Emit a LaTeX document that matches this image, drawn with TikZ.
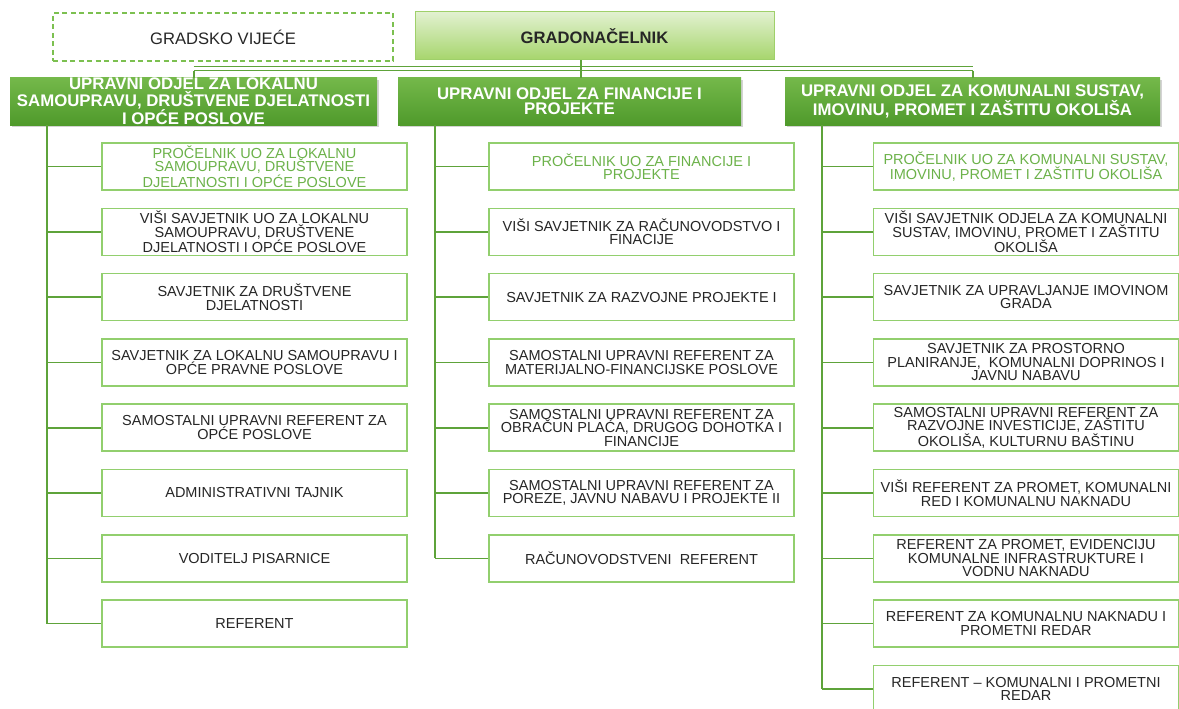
\documentclass[tikz,border=0pt]{standalone}
\usepackage{fontspec}
\setmainfont{Liberation Sans}
\usetikzlibrary{shadows}
\definecolor{linegreen}{HTML}{5EA33A}
\definecolor{boxgreen}{HTML}{92CF6E}
\definecolor{textgreen}{HTML}{6CB24A}
\definecolor{hdrtop}{HTML}{74B84A}
\definecolor{hdrbot}{HTML}{4F9A2B}
\definecolor{maytop}{HTML}{E2F1D0}
\definecolor{maybot}{HTML}{A6D56C}
\definecolor{mayborder}{HTML}{9FD06A}
\definecolor{dashgreen}{HTML}{7CC050}
\definecolor{txt}{HTML}{262626}
\begin{document}
\begin{tikzpicture}[x=1pt,y=-1pt,
  box/.style={draw=boxgreen, line width=1.5pt, fill=white, minimum width=305pt,
    minimum height=47pt, inner sep=0pt, align=center, text=txt,
    font=\fontsize{14.5}{13.5}\selectfont},
  headbox/.style={box, text=textgreen},
  hdr/.style={draw=none, top color=hdrtop, bottom color=hdrbot, text=white,
    font=\bfseries\fontsize{16.8}{14.8}\selectfont, align=center, inner sep=0pt,
    minimum height=47pt, drop shadow={shadow xshift=1.5pt, shadow yshift=-2pt, opacity=0.35}},
  conn/.style={draw=linegreen, line width=1.6pt},
  trunk/.style={draw=linegreen, line width=2pt}]
\useasboundingbox (0,0) rectangle (1179,709);

% top level
\node[draw=dashgreen, line width=1.2pt, dash pattern=on 5pt off 3.5pt, minimum width=340pt,
  minimum height=48pt, inner sep=0pt, text=txt, font=\fontsize{16.6}{16}\selectfont]
  (council) at (223,37) {GRADSKO VIJEĆE};
\node[draw=mayborder, line width=1pt, top color=maytop, bottom color=maybot, minimum width=359pt,
  minimum height=48pt, inner sep=0pt, text=txt, font=\bfseries\fontsize{16.6}{16}\selectfont]
  (mayor) at (594.5,36) {GRADONAČELNIK};

% departments
\node[hdr, minimum width=367pt] (h1) at (193.5,101.5)
  {UPRAVNI ODJEL ZA LOKALNU\\SAMOUPRAVU, DRUŠTVENE DJELATNOSTI\\I OPĆE POSLOVE};
\node[hdr, minimum width=343pt] (h2) at (569.5,101.5)
  {UPRAVNI ODJEL ZA FINANCIJE I\\PROJEKTE};
\node[hdr, minimum width=375pt] (h3) at (972.5,101.5)
  {UPRAVNI ODJEL ZA KOMUNALNI SUSTAV,\\IMOVINU, PROMET I ZAŠTITU OKOLIŠA};

% top connector
\coordinate (bar) at (581,68.5);
\draw[draw=linegreen, line width=1.2pt, double=white, double distance=3.5pt]
  (h1.north |- bar) -- (h3.north |- bar);
\draw[trunk] (mayor.south -| bar) -- (h2.north -| bar);
\draw[trunk] ([yshift=-2.5pt]h1.north |- bar) -- (h1.north);
\draw[trunk] ([yshift=-2.5pt]h3.north |- bar) -- (h3.north);

% column 1
\node[headbox] (a0) at (254.5,166.5) {PROČELNIK UO ZA LOKALNU\\SAMOUPRAVU, DRUŠTVENE\\DJELATNOSTI I OPĆE POSLOVE};
\node[box] (a1) at (254.5,231.8) {VIŠI SAVJETNIK UO ZA LOKALNU\\SAMOUPRAVU, DRUŠTVENE\\DJELATNOSTI I OPĆE POSLOVE};
\node[box] (a2) at (254.5,297.1) {SAVJETNIK ZA DRUŠTVENE\\DJELATNOSTI};
\node[box] (a3) at (254.5,362.4) {SAVJETNIK ZA LOKALNU SAMOUPRAVU I\\OPĆE PRAVNE POSLOVE};
\node[box] (a4) at (254.5,427.7) {SAMOSTALNI UPRAVNI REFERENT ZA\\OPĆE POSLOVE};
\node[box] (a5) at (254.5,493.0) {ADMINISTRATIVNI TAJNIK};
\node[box] (a6) at (254.5,558.3) {VODITELJ PISARNICE};
\node[box] (a7) at (254.5,623.6) {REFERENT};

% column 2
\node[headbox] (b0) at (641.5,166.5) {PROČELNIK UO ZA FINANCIJE I\\PROJEKTE};
\node[box] (b1) at (641.5,231.8) {VIŠI SAVJETNIK ZA RAČUNOVODSTVO I\\FINACIJE};
\node[box] (b2) at (641.5,297.1) {SAVJETNIK ZA RAZVOJNE PROJEKTE I};
\node[box] (b3) at (641.5,362.4) {SAMOSTALNI UPRAVNI REFERENT ZA\\MATERIJALNO-FINANCIJSKE POSLOVE};
\node[box] (b4) at (641.5,427.7) {SAMOSTALNI UPRAVNI REFERENT ZA\\OBRAČUN PLAĆA, DRUGOG DOHOTKA I\\FINANCIJE};
\node[box] (b5) at (641.5,493.0) {SAMOSTALNI UPRAVNI REFERENT ZA\\POREZE, JAVNU NABAVU I PROJEKTE II};
\node[box] (b6) at (641.5,558.3) {RAČUNOVODSTVENI~~REFERENT};

% column 3
\begin{scope}[every node/.append style={minimum width=302pt}]
\node[headbox] (c0) at (1026,166.5) {PROČELNIK UO ZA KOMUNALNI SUSTAV,\\IMOVINU, PROMET I ZAŠTITU OKOLIŠA};
\node[box] (c1) at (1026,231.8) {VIŠI SAVJETNIK ODJELA ZA KOMUNALNI\\SUSTAV, IMOVINU, PROMET I ZAŠTITU\\OKOLIŠA};
\node[box] (c2) at (1026,297.1) {SAVJETNIK ZA UPRAVLJANJE IMOVINOM\\GRADA};
\node[box] (c3) at (1026,362.4) {SAVJETNIK ZA PROSTORNO\\PLANIRANJE,~~KOMUNALNI DOPRINOS I\\JAVNU NABAVU};
\node[box] (c4) at (1026,427.7) {SAMOSTALNI UPRAVNI REFERENT ZA\\RAZVOJNE INVESTICIJE, ZAŠTITU\\OKOLIŠA, KULTURNU BAŠTINU};
\node[box] (c5) at (1026,493.0) {VIŠI REFERENT ZA PROMET, KOMUNALNI\\RED I KOMUNALNU NAKNADU};
\node[box] (c6) at (1026,558.3) {REFERENT ZA PROMET, EVIDENCIJU\\KOMUNALNE INFRASTRUKTURE I\\VODNU NAKNADU};
\node[box] (c7) at (1026,623.6) {REFERENT ZA KOMUNALNU NAKNADU I\\PROMETNI REDAR};
\node[box] (c8) at (1026,688.9) {REFERENT – KOMUNALNI I PROMETNI\\REDAR};
\end{scope}

% trunks
\coordinate (t1) at (47,0);
\coordinate (t2) at (435,0);
\coordinate (t3) at (822,0);
\draw[trunk] (h1.south -| t1) -- (a7.west -| t1);
\draw[trunk] (h2.south -| t2) -- (b6.west -| t2);
\draw[trunk] (h3.south -| t3) -- (c8.west -| t3);
\foreach \n in {a0,a1,a2,a3,a4,a5,a6,a7}{\draw[conn] (\n.west -| t1) -- (\n.west);}
\foreach \n in {b0,b1,b2,b3,b4,b5,b6}{\draw[conn] (\n.west -| t2) -- (\n.west);}
\foreach \n in {c0,c1,c2,c3,c4,c5,c6,c7,c8}{\draw[conn] (\n.west -| t3) -- (\n.west);}
\end{tikzpicture}
\end{document}
